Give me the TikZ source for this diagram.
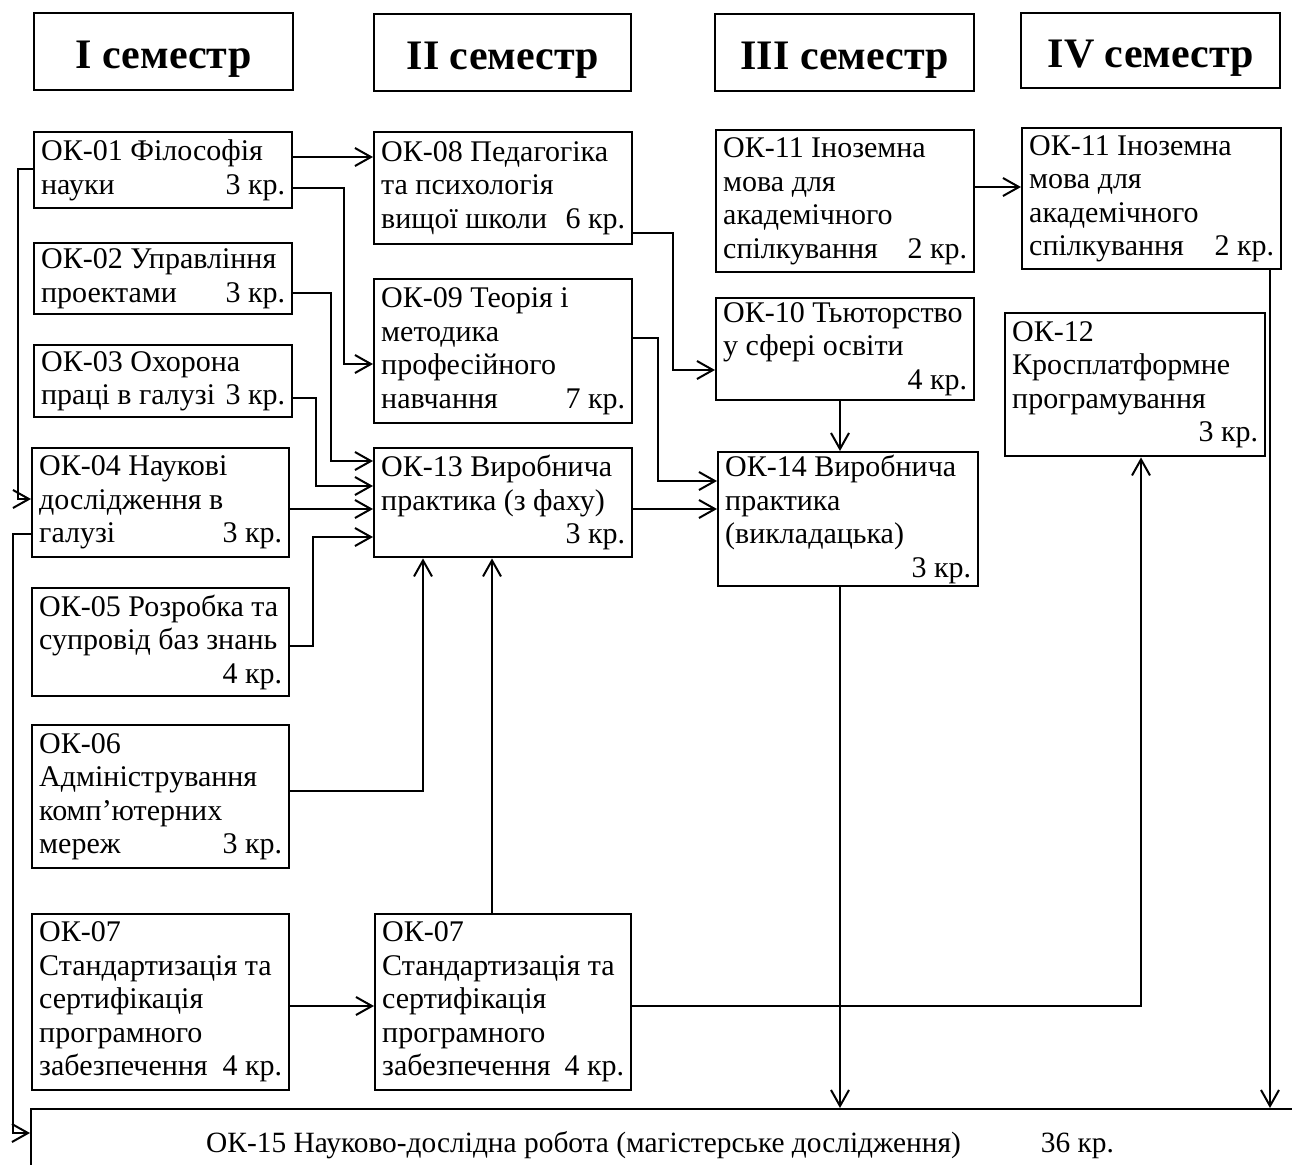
\documentclass[tikz,border=0pt]{standalone}
\usepackage{fontspec}
\setmainfont{Liberation Serif}
\usetikzlibrary{arrows.meta}
\newcommand{\bodyfont}{\fontsize{15}{16.75}\selectfont}
\newcommand{\crd}[1]{\hspace*{\fill}#1}
\tikzset{
  box/.style={draw, line width=1.2pt, anchor=north west, inner xsep=3.5pt, inner ysep=0pt, align=flush left, font=\bodyfont},
  head/.style={draw, line width=1.2pt, anchor=north west, inner sep=0pt, align=center, text height=16.5pt, text depth=0pt, font=\fontsize{21}{25}\selectfont\bfseries},
  arr/.style={line width=1pt, -{Straight Barb[length=8pt,width=9pt]}},
}
\begin{document}
\begin{tikzpicture}[x=0.5pt,y=-0.5pt]
\useasboundingbox (0,0) rectangle (1292,1164);
\clip (0,0) rectangle (1292,1164);
% headers
\node[head, minimum width=129.5pt, minimum height=38.5pt] (h1) at (33,12) {I семестр};
\node[head, minimum width=128.5pt, minimum height=38.5pt] (h2) at (373,13) {II семестр};
\node[head, minimum width=129.5pt, minimum height=38.5pt] (h3) at (714,13) {III семестр};
\node[head, minimum width=129.5pt, minimum height=37.5pt] (h4) at (1020,12) {IV семестр};
% column I
\node[box, text width=122pt, minimum height=38pt] (ok01) at (33,131) {ОК-01 Філософія\\науки\crd{3 кр.}};
\node[box, text width=122pt, minimum height=35.5pt] (ok02) at (33,242) {ОК-02 Управління\\проектами\crd{3 кр.}};
\node[box, text width=122pt, minimum height=36pt] (ok03) at (33,344) {ОК-03 Охорона\\праці в галузі\crd{3 кр.}};
\node[box, text width=121.5pt, minimum height=54.5pt] (ok04) at (31,447) {ОК-04 Наукові\\дослідження в\\галузі\crd{3 кр.}};
\node[box, text width=121.5pt, minimum height=54pt] (ok05) at (31,587) {ОК-05 Розробка та\\супровід баз знань\\\crd{4 кр.}};
\node[box, text width=121.5pt, minimum height=71.5pt] (ok06) at (31,724) {ОК-06\\Адміністрування\\комп’ютерних\\мереж\crd{3 кр.}};
\node[box, text width=121.5pt, minimum height=88pt] (ok07a) at (31,913) {ОК-07\\Стандартизація та\\сертифікація\\програмного\\забезпечення\crd{4 кр.}};
% column II
\node[box, text width=122pt, minimum height=56pt] (ok08) at (373,131) {ОК-08 Педагогіка\\та психологія\\вищої школи\crd{6 кр.}};
\node[box, text width=122pt, minimum height=72pt] (ok09) at (373,278) {ОК-09 Теорія і\\методика\\професійного\\навчання\crd{7 кр.}};
\node[box, text width=122pt, minimum height=54.5pt] (ok13) at (373,447) {ОК-13 Виробнича\\практика (з фаху)\\\crd{3 кр.}};
\node[box, text width=121pt, minimum height=88pt] (ok07b) at (374,913) {ОК-07\\Стандартизація та\\сертифікація\\програмного\\забезпечення\crd{4 кр.}};
% column III
\node[box, text width=122pt, minimum height=71pt] (ok11a) at (715,129) {ОК-11 Іноземна\\мова для\\академічного\\спілкування\crd{2 кр.}};
\node[box, text width=122pt, minimum height=51pt] (ok10) at (715,297) {ОК-10 Тьюторство\\у сфері освіти\\\crd{4 кр.}};
\node[box, text width=123pt, minimum height=67pt] (ok14) at (717,451) {ОК-14 Виробнича\\практика\\(викладацька)\\\crd{3 кр.}};
% column IV
\node[box, text width=122.5pt, minimum height=70.5pt] (ok11b) at (1021,127) {ОК-11 Іноземна\\мова для\\академічного\\спілкування\crd{2 кр.}};
\node[box, text width=123pt, minimum height=71.5pt] (ok12) at (1004,312) {ОК-12\\Кросплатформне\\програмування\\\crd{3 кр.}};
% bottom
\node[draw, line width=1.2pt, anchor=north west, inner sep=0pt, text width=700pt, minimum height=35.5pt, align=flush left, font=\fontsize{14.7}{16.75}\selectfont] (ok15) at (30,1108) {\hspace*{87.5pt}ОК-15 Науково-дослідна робота (магістерське дослідження)\hspace{40pt}36 кр.};
% connectors
\draw[arr] (ok01.east |- 0,157) -- (ok08.west |- 0,157);
\draw[arr] (ok01.east |- 0,188) -- (344,188) -- (344,364) -- (ok09.west |- 0,364);
\draw[arr] (ok02.east |- 0,293) -- (331,293) -- (331,461) -- (ok13.west |- 0,461);
\draw[arr] (ok03.east |- 0,398) -- (316,398) -- (316,486) -- (ok13.west |- 0,486);
\draw[arr] (ok04.east |- 0,509) -- (ok13.west |- 0,509);
\draw[arr] (ok05.east |- 0,646) -- (313,646) -- (313,537) -- (ok13.west |- 0,537);
\draw[arr] (ok06.east |- 0,791) -- (423,791) -- (ok13.south -| 423,0);
\draw[arr] (ok07b.north -| 492,0) -- (ok13.south -| 492,0);
\draw[arr] (ok07a.east |- 0,1006) -- (ok07b.west |- 0,1006);
\draw[arr] (ok07b.east |- 0,1006) -- (1141,1006) -- (ok12.south -| 1141,0);
\draw[arr] (ok01.west |- 0,169) -- (18,169) -- (18,499) -- (ok04.west |- 0,499);
\draw[arr] (ok04.west |- 0,534) -- (13,534) -- (13,1133) -- (ok15.west |- 0,1133);
\draw[arr] (ok08.east |- 0,233) -- (673,233) -- (673,370) -- (ok10.west |- 0,370);
\draw[arr] (ok09.east |- 0,338) -- (658,338) -- (658,481) -- (ok14.west |- 0,481);
\draw[arr] (ok13.east |- 0,509) -- (ok14.west |- 0,509);
\draw[arr] (ok10.south -| 840,0) -- (ok14.north -| 840,0);
\draw[arr] (ok14.south -| 840,0) -- (ok15.north -| 840,0);
\draw[arr] (ok11a.east |- 0,187) -- (ok11b.west |- 0,187);
\draw[arr] (ok11b.south -| 1270,0) -- (ok15.north -| 1270,0);
\end{tikzpicture}
\end{document}
